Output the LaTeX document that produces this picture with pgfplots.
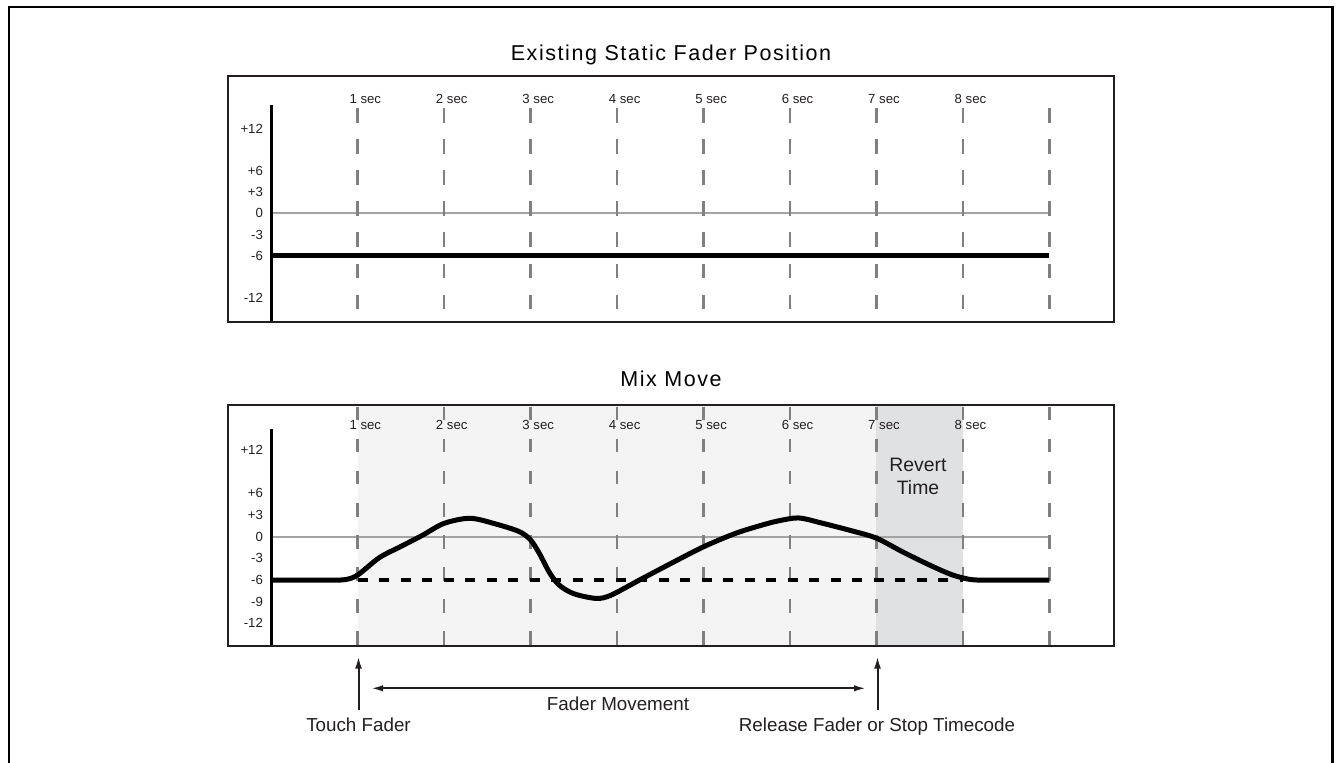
\documentclass[border=0pt]{standalone}
\usepackage{fontspec}
\setmainfont{Liberation Sans}
\newfontfamily\titlefont[LetterSpace=7.3]{Liberation Sans}
\usepackage{pgfplots}
\pgfplotsset{compat=1.18}
\usetikzlibrary{arrows.meta}
\definecolor{boxc}{HTML}{231F20}
\definecolor{zeroc}{HTML}{A3A3A3}
\definecolor{dashc}{HTML}{808080}
\definecolor{lightbg}{HTML}{F4F4F4}
\definecolor{revertbg}{HTML}{E0E1E3}
\begin{document}
\begin{tikzpicture}
\useasboundingbox (0,0) rectangle (668.5pt,381pt);
\pgfplotsset{
  panel/.style={
    scale only axis, width=443pt, xmin=-0.497, xmax=9.752,
    axis line style={boxc, line width=1.1pt},
    axis on top=true,
    xtick={1,2,3,4,5,6,7,8},
    xticklabels={1 sec,2 sec,3 sec,4 sec,5 sec,6 sec,7 sec,8 sec},
    xticklabel pos=upper,
    major tick length=0pt,
    tick style={draw=none},
    tick label style={font=\fontsize{6.6pt}{7.5pt}\selectfont, text=boxc},
    yticklabel style={anchor=east, inner sep=0pt, xshift=17.5pt},
    clip=true,
  },
  vline/.style={dashc, line width=1.25pt},
}
% ---------- upper panel ----------
\begin{axis}[panel,
  at={(114.15pt,343pt)}, anchor=north west,
  height=122.85pt, ymin=-15.33, ymax=19.42,
  ytick={-12,-6,-3,0,3,6,12},
  yticklabels={-12,-6,-3,0,+3,+6,+12},
  xticklabel style={anchor=center, inner sep=0pt, xshift=3.8pt, yshift=-11.65pt},
]
\addplot[zeroc, line width=1.1pt] coordinates {(0,0) (9,0)};
\pgfplotsinvokeforeach{1,...,9}{
  \addplot[vline, dash pattern=on 7.25pt off 8.3pt] coordinates {(#1,14.89) (#1,-13.96)};
}
\addplot[black, line width=2.6pt] coordinates {(0,-6) (9,-6)};
\draw[black, line width=1.25pt] (axis cs:0,15.3) -- (axis cs:0,-15.33);
\end{axis}
% ---------- lower panel ----------
\begin{axis}[panel,
  at={(114.15pt,178.5pt)}, anchor=north west,
  height=120.5pt, ymin=-15.14, ymax=18.24,
  ytick={-12,-9,-6,-3,0,3,6,12},
  yticklabels={-12,-9,-6,-3,0,+3,+6,+12},
  xticklabel style={anchor=center, inner sep=0pt, xshift=3.8pt, yshift=-10pt},
]
\addplot[fill=lightbg, draw=none] coordinates {(1,-16) (1,20) (7,20) (7,-16)} -- cycle;
\addplot[fill=revertbg, draw=none] coordinates {(7,-16) (7,20) (8,20) (8,-16)} -- cycle;
\addplot[zeroc, line width=1.1pt] coordinates {(0,0) (9,0)};
\pgfplotsinvokeforeach{1,...,9}{
  \addplot[vline, dash pattern=on 6.75pt off 9.3pt] coordinates {(#1,18.0) (#1,-15.14)};
}
\draw[black, line width=1.25pt] (axis cs:0,14.87) -- (axis cs:0,-15.14);
\addplot[black, line width=2.4pt, dash pattern=on 5pt off 5.75pt] coordinates {(1,-6) (8,-6)};
\addplot[black, line width=2.5pt, smooth, tension=0.5] coordinates {
(0,-6) (0.6,-6) (0.85,-5.95) (1.0,-5.3) (1.25,-2.9) (1.5,-1.35) (1.75,0.2)
(2.0,1.85) (2.3,2.55) (2.6,1.75) (2.87,0.7) (3.0,-0.45) (3.1,-2.3)
(3.22,-5.0) (3.33,-6.7) (3.5,-7.9) (3.76,-8.55) (3.93,-8.1) (4.26,-6.0)
(4.6,-3.85) (5.0,-1.4) (5.37,0.46) (5.68,1.62) (5.87,2.2) (6.1,2.6)
(6.35,1.94) (6.72,0.8) (7.0,-0.2) (7.3,-2.08) (7.61,-3.9) (7.88,-5.3)
(8.1,-5.95) (8.3,-6) (9,-6)};
\end{axis}
% ---------- annotations (pixel coordinates) ----------
\begin{scope}[shift={(0pt,381pt)}, x=0.5pt, y=-0.5pt]
\draw[black, line width=1.3pt] (9,7) rectangle (1332.5,800);
\node[anchor=base, inner sep=0pt] at (671,61) {\titlefont\fontsize{10.75pt}{12pt}\selectfont Existing Static Fader Position};
\node[anchor=base, inner sep=0pt] at (671,386) {\titlefont\fontsize{10.75pt}{12pt}\selectfont Mix Move};
\node[anchor=base, inner sep=0pt, text=boxc] at (918,471.7) {\fontsize{9.7pt}{11pt}\selectfont Revert};
\node[anchor=base, inner sep=0pt, text=boxc] at (918,494) {\fontsize{9.7pt}{11pt}\selectfont Time};
\draw[boxc, line width=1pt, -{Latex[length=6pt,width=3.4pt]}] (358.5,710) -- (358.5,656.5);
\draw[boxc, line width=1pt, -{Latex[length=6pt,width=3.4pt]}] (877.5,710) -- (877.5,656.5);
\draw[boxc, line width=1pt, {Latex[length=6pt,width=3.2pt]}-{Latex[length=6pt,width=3.2pt]}] (371,688.3) -- (866,688.3);
\node[anchor=base, inner sep=0pt, text=boxc] at (618,710) {\fontsize{9.4pt}{11pt}\selectfont Fader Movement};
\node[anchor=base, inner sep=0pt, text=boxc] at (358.5,731.7) {\fontsize{9.4pt}{11pt}\selectfont Touch Fader};
\node[anchor=base, inner sep=0pt, text=boxc] at (877,731.7) {\fontsize{9.4pt}{11pt}\selectfont Release Fader or Stop Timecode};
\end{scope}
\end{tikzpicture}
\end{document}
